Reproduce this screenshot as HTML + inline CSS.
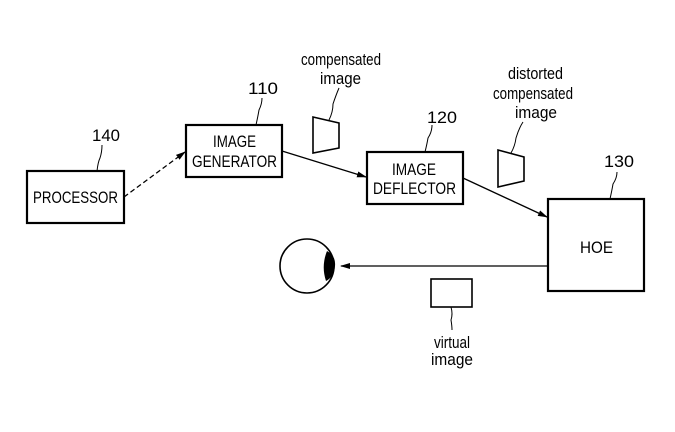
<!DOCTYPE html>
<html><head><style>html,body{margin:0;padding:0;background:#fff}svg{display:block}</style></head><body>
<svg width="675" height="432" viewBox="0 0 675 432" xmlns="http://www.w3.org/2000/svg" font-family="Liberation Sans, sans-serif" fill="none" stroke="#000">
<defs><marker id="a" markerWidth="10" markerHeight="8" refX="9" refY="4" orient="auto" markerUnits="userSpaceOnUse"><path d="M0,1 L10,4 L0,7 z" fill="#000" stroke="none"/></marker></defs>
<g stroke-width="2.2">
<rect x="27" y="171" width="97" height="52"/>
<rect x="186" y="125" width="96" height="52"/>
<rect x="367" y="152" width="96" height="52"/>
<rect x="548" y="199" width="96" height="92"/>
</g>
<g stroke-width="1.6">
<rect x="431" y="279" width="41" height="28"/>
<path d="M313,117 L339,123 L339,148 L313,153 Z"/>
<path d="M498,150 L524,157 L524,181 L498,187 Z"/>
<circle cx="307" cy="266" r="27"/>
</g>
<path d="M327,251 Q336,256 335,266 Q334,277 326,281 Q321,266 327,251 Z" fill="#000" stroke="none"/>
<g stroke-width="1.3">
<line x1="124" y1="197" x2="185" y2="152" stroke-dasharray="5,3" marker-end="url(#a)"/>
<line x1="282" y1="151" x2="366" y2="177" marker-end="url(#a)"/>
<line x1="463" y1="178" x2="547" y2="217" marker-end="url(#a)"/>
<line x1="548" y1="266" x2="341" y2="266" marker-end="url(#a)"/>
</g>
<g stroke-width="1">
<path d="M97,171 Q98,162 100,158 Q102,152 102,145"/>
<path d="M256,125 Q258,116 259,110 Q262,104 262,98"/>
<path d="M425,152 Q427,144 428,138 Q432,132 432,125"/>
<path d="M610,199 Q612,190 613,184 Q617,178 617,172"/>
<path d="M329,120 Q333,112 333,104 Q336,95 339,88"/>
<path d="M511,153 Q515,146 516,138 Q519,128 523,122"/>
<path d="M451,307 Q453,314 451,320 Q452,326 452,330"/>
</g>
<g fill="#000" stroke="none" font-size="17">
<text x="33" y="203" textLength="85" lengthAdjust="spacingAndGlyphs">PROCESSOR</text>
<text x="213" y="147" textLength="43" lengthAdjust="spacingAndGlyphs">IMAGE</text>
<text x="192" y="167" textLength="85" lengthAdjust="spacingAndGlyphs">GENERATOR</text>
<text x="392" y="175" textLength="44" lengthAdjust="spacingAndGlyphs">IMAGE</text>
<text x="373" y="194" textLength="83" lengthAdjust="spacingAndGlyphs">DEFLECTOR</text>
<text x="580" y="253" textLength="33" lengthAdjust="spacingAndGlyphs">HOE</text>
<text x="92" y="141" textLength="28" lengthAdjust="spacingAndGlyphs">140</text>
<text x="248" y="94" textLength="30" lengthAdjust="spacingAndGlyphs">110</text>
<text x="427" y="123" textLength="30" lengthAdjust="spacingAndGlyphs">120</text>
<text x="604" y="167" textLength="30" lengthAdjust="spacingAndGlyphs">130</text>
<text x="301" y="65" textLength="80" lengthAdjust="spacingAndGlyphs">compensated</text>
<text x="320" y="84" textLength="41" lengthAdjust="spacingAndGlyphs">image</text>
<text x="508" y="79" textLength="55" lengthAdjust="spacingAndGlyphs">distorted</text>
<text x="493" y="99" textLength="80" lengthAdjust="spacingAndGlyphs">compensated</text>
<text x="515" y="118" textLength="42" lengthAdjust="spacingAndGlyphs">image</text>
<text x="434" y="348" textLength="36" lengthAdjust="spacingAndGlyphs">virtual</text>
<text x="431" y="365" textLength="42" lengthAdjust="spacingAndGlyphs">image</text>
</g>
</svg>
</body></html>
